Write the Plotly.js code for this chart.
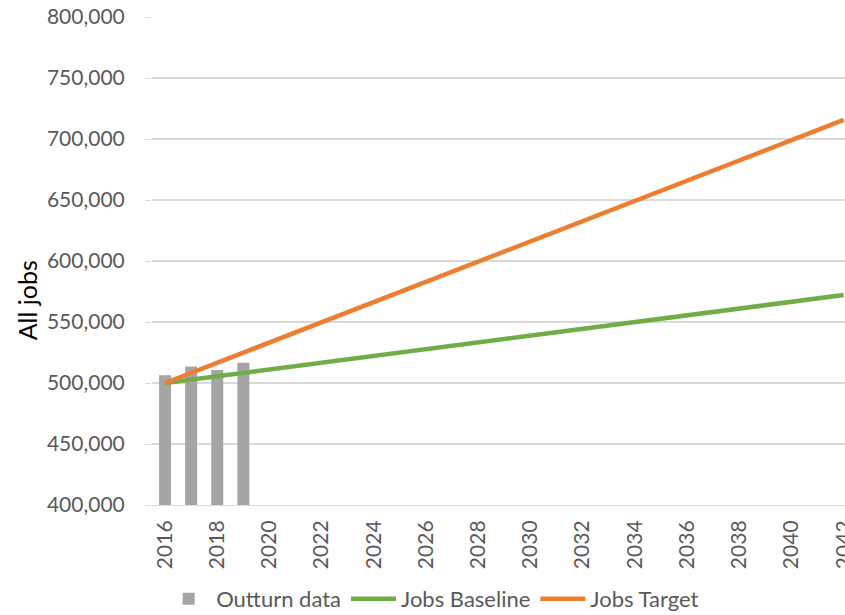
<!DOCTYPE html>
<html>
<head>
<meta charset="utf-8">
<script src="https://cdn.plot.ly/plotly-3.0.1.min.js"></script>
<style>html,body{margin:0;padding:0;background:#fff;}#chart{width:845px;height:615px;}</style>
</head>
<body>
<div id="chart"></div>
<script>
// Outturn data (bars)
const outturnYears = [2016, 2017, 2018, 2019];
const outturnJobs = [506300, 513500, 510700, 516500];

// Projection years
const projYears = [2016, 2017, 2018, 2019, 2020, 2021, 2022, 2023, 2024, 2025, 2026, 2027, 2028, 2029,
  2030, 2031, 2032, 2033, 2034, 2035, 2036, 2037, 2038, 2039, 2040, 2041, 2042];
// Jobs Baseline (green line)
const baselineJobs = [500000, 502800, 505500, 508300, 511100, 513800, 516600, 519400, 522200, 524900,
  527700, 530500, 533300, 536000, 538800, 541600, 544400, 547100, 549900, 552700, 555500, 558200,
  561000, 563800, 566600, 569300, 572100];
// Jobs Target (orange line)
const targetJobs = [500000, 508300, 516600, 524900, 533200, 541500, 549800, 558100, 566400, 574600,
  582900, 591200, 599500, 607800, 616100, 624400, 632700, 641000, 649300, 657500, 665800, 674100,
  682400, 690700, 699000, 707300, 715600];

const xTicks = [2016, 2018, 2020, 2022, 2024, 2026, 2028, 2030, 2032, 2034, 2036, 2038, 2040, 2042];
const yTicks = [400000, 450000, 500000, 550000, 600000, 650000, 700000, 750000, 800000];
const yTitle = 'All jobs';

const fontFam = 'Lato, "Open Sans", sans-serif';
const textGrey = '#595959';

const traces = [
  {
    type: 'bar', name: 'Outturn data', x: outturnYears, y: outturnJobs,
    marker: {color: '#a5a5a5'}, width: 0.46
  },
  {
    type: 'scatter', mode: 'lines', name: 'Jobs Baseline', x: projYears, y: baselineJobs,
    line: {color: '#70ad47', width: 4.5}
  },
  {
    type: 'scatter', mode: 'lines', name: 'Jobs Target', x: projYears, y: targetJobs,
    line: {color: '#ed7d31', width: 4.5}
  }
];

const layout = {
  width: 845, height: 615,
  margin: {l: 152, r: 0, t: 17, b: 110, pad: 0},
  paper_bgcolor: '#ffffff', plot_bgcolor: '#ffffff',
  font: {family: fontFam, color: textGrey, size: 21},
  showlegend: true,
  legend: {
    orientation: 'h', xref: 'container', yref: 'container',
    x: 0.512, xanchor: 'center', y: 0.026, yanchor: 'middle',
    font: {family: fontFam, size: 22, color: textGrey},
    traceorder: 'normal', itemwidth: 45
  },
  xaxis: {
    type: 'linear', range: [2015.5, 2042.05],
    tickmode: 'array', tickvals: xTicks, ticktext: xTicks.map(String),
    tickangle: -90, showgrid: false, zeroline: false,
    showline: true, linecolor: '#d9d9d9', linewidth: 1,
    ticks: '', ticklabelstandoff: 6, ticklabeloverflow: 'allow',
    tickfont: {family: fontFam, size: 21, color: textGrey}
  },
  yaxis: {
    range: [400000, 800000], tickmode: 'array', tickvals: yTicks,
    ticktext: yTicks.map(v => v.toLocaleString('en-US')),
    showgrid: true, gridcolor: '#d9d9d9', gridwidth: 1.5, zeroline: false,
    showline: false, ticks: 'outside', ticklen: 6, tickcolor: '#d9d9d9',
    ticklabelstandoff: 16,
    tickfont: {family: fontFam, size: 21, color: textGrey}
  },
  annotations: [{
    text: yTitle, xref: 'paper', yref: 'paper', x: -0.18, y: 0.42,
    xanchor: 'center', yanchor: 'middle', textangle: -90, showarrow: false,
    xshift: 0, font: {family: fontFam, size: 25, color: '#000000'}
  }],
  bargap: 0.5
};

Plotly.newPlot('chart', traces, layout, {displayModeBar: false, staticPlot: true});
</script>
</body>
</html>
